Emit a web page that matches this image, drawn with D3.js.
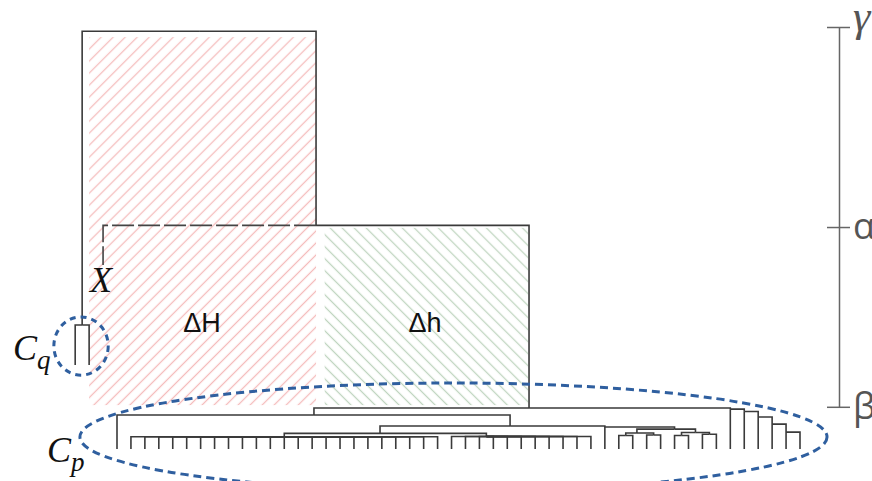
<!DOCTYPE html>
<html>
<head>
<meta charset="utf-8">
<script src="https://cdn.jsdelivr.net/npm/d3@7"></script>
<style>
body { margin: 0; background: #fff; }
</style>
</head>
<body>
<div id="chart"></div>
<script>
// x is in leaf slots (Cp leaves are slots 0..49), h is merge height
const cpLeafParents = [
    'P1',
    'A', 'A', 'A', 'A', 'A', 'A', 'A', 'A', 'A', 'A', 'A', 'A',
    'A', 'A', 'A', 'A', 'A', 'A', 'A', 'A', 'A', 'A', 'A',
    'B', 'B', 'B', 'B', 'B', 'B', 'B', 'B', 'B', 'B', 'B',
    'D', 'F1', 'F1', 'F2', 'F2', 'H1', 'H1', 'H2', 'H2',
    'S1', 'S2', 'S3', 'S4', 'S5', 'S5'
];

// [id, parent, x, h]
const upperNodes = [
    ['G',  null, 5.89, 99],
    ['Q',  'G',  -2.5, 29.4],
    ['q1', 'Q',  -3,   19.9],
    ['q2', 'Q',  -2,   19.9],
    ['Al', 'G',  14.28, 53],
    ['X',  'Al', -1,   43.6],
    ['P0', 'Al', 29.56, 9.7]
];

const cpNodes = [
    ['P1', 'P0', 14.13, 8.06],
    ['S1', 'P0', 44,    9.45],
    ['S2', 'S1', 45,    8.9],
    ['S3', 'S2', 46,    7.6],
    ['S4', 'S3', 47,    5.9],
    ['S5', 'S4', 48,    4.0],
    ['P2', 'P1', 28.2,  5.45],
    ['C',  'P2', 18.87, 3.7],
    ['A',  'C',  12,    2.9],
    ['B',  'C',  26.5,  2.95],
    ['D',  'P2', 35,    5.2],
    ['E',  'D',  40,    4.7],
    ['F',  'E',  37.3,  3.8],
    ['F1', 'F',  36.5,  3.2],
    ['F2', 'F',  38.5,  3.3],
    ['H',  'E',  41.5,  3.9],
    ['H1', 'H',  40.5,  3.2],
    ['H2', 'H',  42.5,  3.5]
];

const dashedNodes = ['X'];

// shaded areas: name, x0, x1, h0, h1
const hatchAreas = [
    ['dH', -2.0, 14.28, 10.4, 97.6],
    ['dh', 14.9, 29.5, 10.4, 52.4]
];

// dashed rings round clusters: name, cx, ch, rx, rh
const rings = [
    ['Cq', -2.58, 24.4, 1.95, 6.9],
    ['Cp', 24.14, 2.84, 26.8, 12.8]
];

const levelTicks = [100, 52.6, 10];
const levelLabels = ['γ', 'α', 'β'];

// text, x, h
const areaLabels = [
    ['ΔH', 6.1, 27.7],
    ['Δh', 22.1, 27.7]
];
const mathLabels = [
    ['C', 'q', -7.46, 21.1],
    ['C', 'p', -5.02, -3.1],
    ['X', '', -1.94, 37.2]
];

const FIGURE = { WIDTH: 872, HEIGHT: 481 };
const HATCH = {
    dH: { color: '#f5bcbc', angle: 45 },
    dh: { color: '#c0d5c0', angle: -45 }
};

const x = d3.scaleLinear().domain([0, 49]).range([117, 800]);
const y = d3.scaleLinear().domain([0, 100]).range([449, 27]);

const svg = d3.select('#chart')
    .append('svg')
        .attr('width', FIGURE.WIDTH)
        .attr('height', FIGURE.HEIGHT)
        .style('background', '#fff');

// hatching
const defs = svg.append('defs');
const pat = defs.selectAll('pattern')
    .data(hatchAreas)
    .join('pattern')
        .attr('id', d => 'hatch-' + d[0])
        .attr('patternUnits', 'userSpaceOnUse')
        .attr('width', 8.5)
        .attr('height', 8.5)
        .attr('patternTransform', d => `rotate(${HATCH[d[0]].angle})`);
pat.append('line')
    .attr('x1', 4.25).attr('x2', 4.25)
    .attr('y1', 0).attr('y2', 8.5)
    .attr('stroke', d => HATCH[d[0]].color)
    .attr('stroke-width', 1.3);

svg.append('g')
    .selectAll('rect')
    .data(hatchAreas)
    .join('rect')
        .attr('x', d => x(d[1]))
        .attr('width', d => x(d[2]) - x(d[1]))
        .attr('y', d => y(d[4]))
        .attr('height', d => y(d[3]) - y(d[4]))
        .attr('fill', d => `url(#hatch-${d[0]})`);

svg.append('g')
    .selectAll('text')
    .data(areaLabels)
    .join('text')
        .attr('x', d => x(d[1]))
        .attr('y', d => y(d[2]))
        .attr('text-anchor', 'middle')
        .style('font-family', '"Liberation Sans", Arial, sans-serif')
        .style('font-size', '27px')
        .attr('fill', '#111')
        .text(d => d[0]);

// tree
const nodes = new Map();
upperNodes.concat(cpNodes).forEach(d => nodes.set(d[0], { id: d[0], parent: d[1], x: d[2], h: d[3] }));
cpLeafParents.forEach((p, i) => nodes.set('L' + i, { id: 'L' + i, parent: p, x: i, h: 0 }));

const links = Array.from(nodes.values()).filter(d => d.parent !== null);

svg.append('g')
    .attr('class', 'links')
    .selectAll('path')
    .data(links)
    .join('path')
        .attr('d', d => {
            const p = nodes.get(d.parent);
            return `M${x(p.x)},${y(p.h)}H${x(d.x)}V${y(d.h)}`;
        })
        .attr('fill', 'none')
        .attr('stroke', d => dashedNodes.includes(d.id) ? '#444' : '#3a3a3a')
        .attr('stroke-width', 1.6)
        .attr('stroke-dasharray', d => dashedNodes.includes(d.id) ? '22,4' : null);

// rings
svg.append('g')
    .selectAll('ellipse')
    .data(rings)
    .join('ellipse')
        .attr('cx', d => x(d[1]))
        .attr('cy', d => y(d[2]))
        .attr('rx', d => x(d[1] + d[3]) - x(d[1]))
        .attr('ry', d => y(d[2]) - y(d[2] + d[4]))
        .attr('fill', 'none')
        .attr('stroke', '#2f5f9f')
        .attr('stroke-width', 3)
        .attr('stroke-dasharray', d => d[0] === 'Cq' ? '6,5' : '8,5');

const ml = svg.append('g')
    .selectAll('text')
    .data(mathLabels)
    .join('text')
        .attr('x', d => x(d[2]))
        .attr('y', d => y(d[3]))
        .style('font-family', '"Liberation Serif", "DejaVu Serif", serif')
        .style('font-style', 'italic')
        .style('font-size', '36px')
        .attr('fill', '#111');
ml.append('tspan').text(d => d[0]);
ml.append('tspan')
    .attr('dy', 9)
    .style('font-size', '27px')
    .text(d => d[1]);

// level axis
const levelScale = y.copy().domain([10, 100]).range([y(10), y(100)]);
const axis = d3.axisRight(levelScale)
    .tickValues(levelTicks)
    .tickFormat((d, i) => levelLabels[i])
    .tickSizeInner(11)
    .tickSizeOuter(0)
    .tickPadding(3);

const ax = svg.append('g')
    .attr('transform', 'translate(839,0)')
    .call(axis);
ax.select('.domain').attr('stroke', '#666').attr('stroke-width', 1.5);
ax.selectAll('.tick line')
    .attr('x1', -12)
    .attr('stroke', '#666')
    .attr('stroke-width', 1.5);
ax.selectAll('.tick text')
    .attr('fill', '#555')
    .style('font-family', d => d === 100 ? '"Liberation Serif", serif' : '"Open Sans", "DejaVu Sans", sans-serif')
    .style('font-style', d => d === 100 ? 'italic' : 'normal')
    .style('font-size', d => d === 100 ? '44px' : '36px')
    .attr('dy', d => d === 100 ? '0.07em' : '0.32em');
</script>
</body>
</html>
